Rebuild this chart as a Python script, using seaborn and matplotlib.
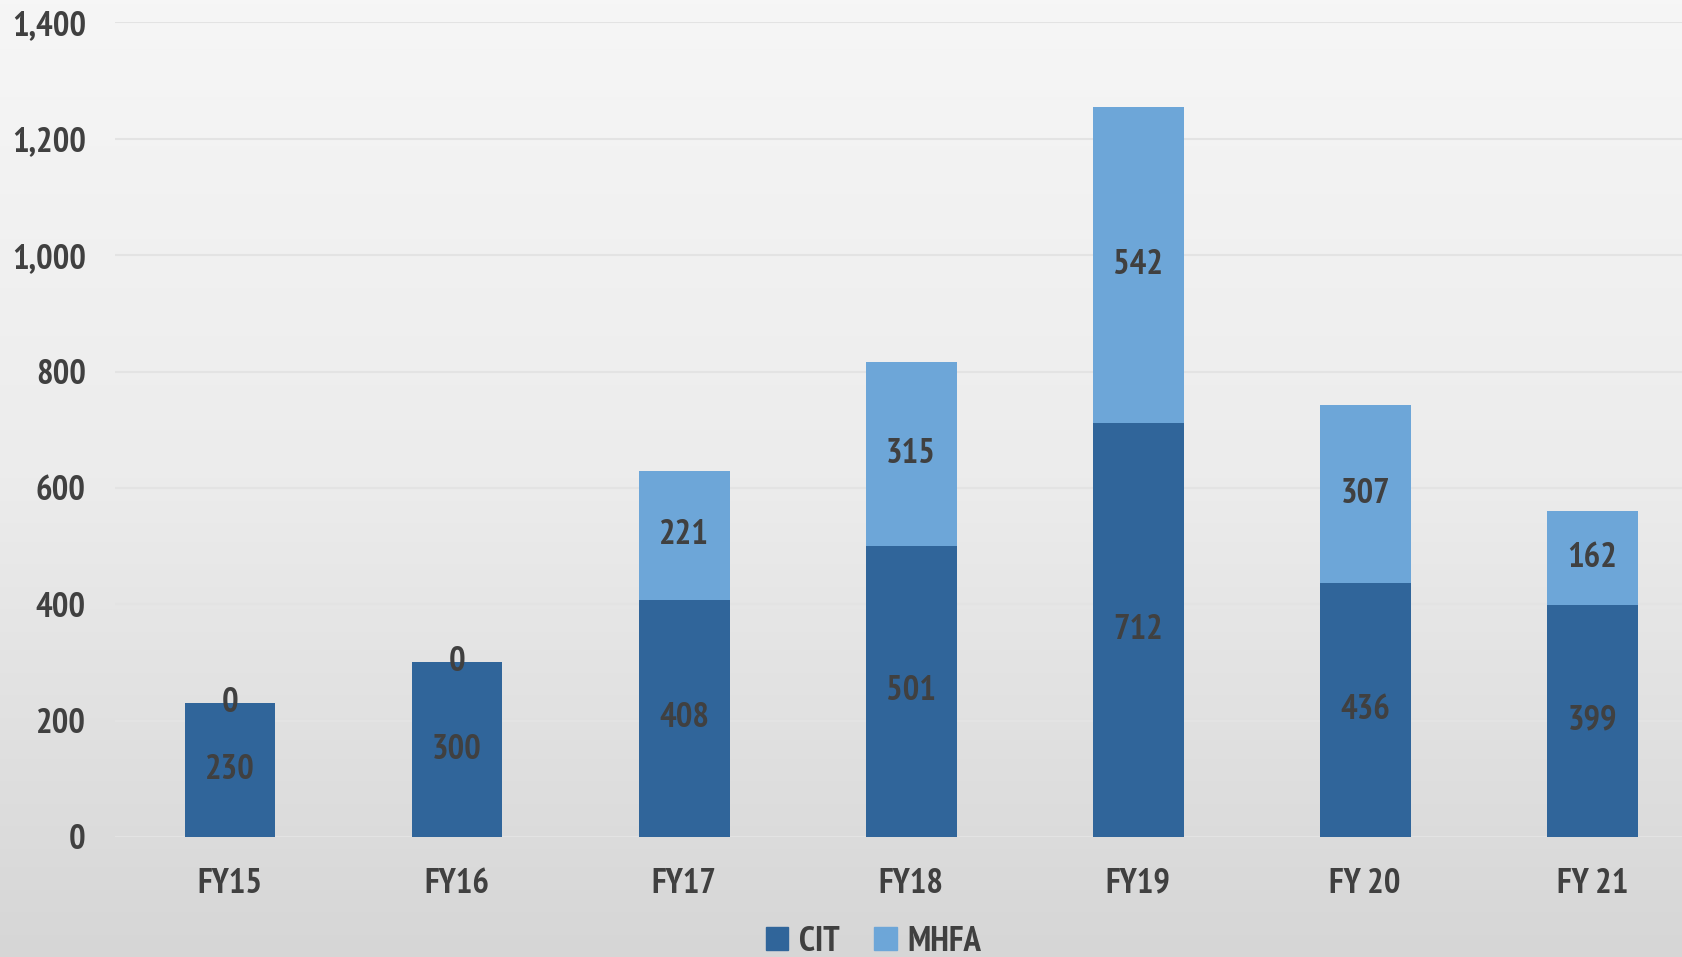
import numpy as np
import pandas as pd
import seaborn as sns
import matplotlib.pyplot as plt
from matplotlib import font_manager
from matplotlib.colors import LinearSegmentedColormap

years = ["FY15", "FY16", "FY17", "FY18", "FY19", "FY 20", "FY 21"]
cit = [230, 300, 408, 501, 712, 436, 399]
mhfa = [0, 0, 221, 315, 542, 307, 162]

CIT_COLOR = "#30659a"
MHFA_COLOR = "#6da6d8"
TEXT = "#404040"

df = pd.DataFrame({"year": years, "CIT": cit, "MHFA": mhfa})
df["total"] = df["CIT"] + df["MHFA"]

sns.set_theme(style="white")


def wnum(w):
    if isinstance(w, str):
        return {"bold": 700, "heavy": 800, "black": 900, "extra bold": 800,
                "semibold": 600, "demibold": 600}.get(w.lower(), 400)
    return w


# look for a narrow bold face, the reference uses an Impact-like font
fam, fs = "DejaVu Sans", 19
narrow = [f for f in font_manager.fontManager.ttflist
          if ("Narrow" in f.name or "Condensed" in f.name)]
bold_narrow = [f for f in narrow if wnum(f.weight) >= 700]
if bold_narrow:
    bold_narrow.sort(key=lambda f: (0 if "Narrow" in f.name else 1, wnum(f.weight)))
    fam, fs = bold_narrow[0].name, 25
elif narrow:
    fam, fs = narrow[0].name, 25
plt.rcParams["font.family"] = [fam, "DejaVu Sans"]
plt.rcParams["font.weight"] = "bold"

fig = plt.figure(figsize=(16.83, 9.57), dpi=100)

# gradient background
bg = fig.add_axes([0, 0, 1, 1], zorder=-10)
grad = np.linspace(0, 1, 256).reshape(-1, 1)
bg.imshow(grad, aspect="auto", extent=[0, 1, 0, 1],
          cmap=LinearSegmentedColormap.from_list("bg", ["#f6f6f6", "#ececec", "#d6d6d6"]))
bg.axis("off")

ax = fig.add_axes([0.0683, 0.1254, 0.9317, 0.8511])
ax.set_facecolor("none")

sns.barplot(data=df, x="year", y="total", color=MHFA_COLOR, width=0.4,
            saturation=1, linewidth=0, ax=ax, zorder=3)
sns.barplot(data=df, x="year", y="CIT", color=CIT_COLOR, width=0.4,
            saturation=1, linewidth=0, ax=ax, zorder=4)

for i, row in df.iterrows():
    ax.text(i, row["CIT"] / 2, f"{row['CIT']:,}", ha="center", va="center",
            fontsize=fs, color=TEXT, fontweight="bold", zorder=5)
    ax.text(i, row["CIT"] + row["MHFA"] / 2, f"{row['MHFA']:,}", ha="center",
            va="center", fontsize=fs, color=TEXT, fontweight="bold", zorder=5)

ax.set_ylim(0, 1400)
ax.set_xlim(-0.507, 6.40)
ax.set_yticks(range(0, 1401, 200))
ax.set_yticklabels([f"{v:,}" for v in range(0, 1401, 200)])
ax.yaxis.grid(True, color="#e3e3e3", linewidth=1.5, zorder=0)
ax.set_axisbelow(True)
for s in ax.spines.values():
    s.set_visible(False)
ax.set_xlabel("")
ax.set_ylabel("")
ax.tick_params(axis="y", length=0, pad=21, labelsize=fs, labelcolor=TEXT)
ax.tick_params(axis="x", length=0, pad=22, labelsize=fs, labelcolor=TEXT)
for lab in ax.get_xticklabels() + ax.get_yticklabels():
    lab.set_fontweight("bold")

handles = [plt.Rectangle((0, 0), 1, 1, color=CIT_COLOR),
           plt.Rectangle((0, 0), 1, 1, color=MHFA_COLOR)]
fig.legend(handles, ["CIT", "MHFA"], loc="center", bbox_to_anchor=(0.519, 0.016),
           ncol=2, frameon=False, labelcolor=TEXT,
           handlelength=0.65, handleheight=0.65, handletextpad=0.3, columnspacing=1.0,
           prop={"weight": "bold", "size": fs, "family": [fam, "DejaVu Sans"]})

fig.savefig("out.png", dpi=100)
